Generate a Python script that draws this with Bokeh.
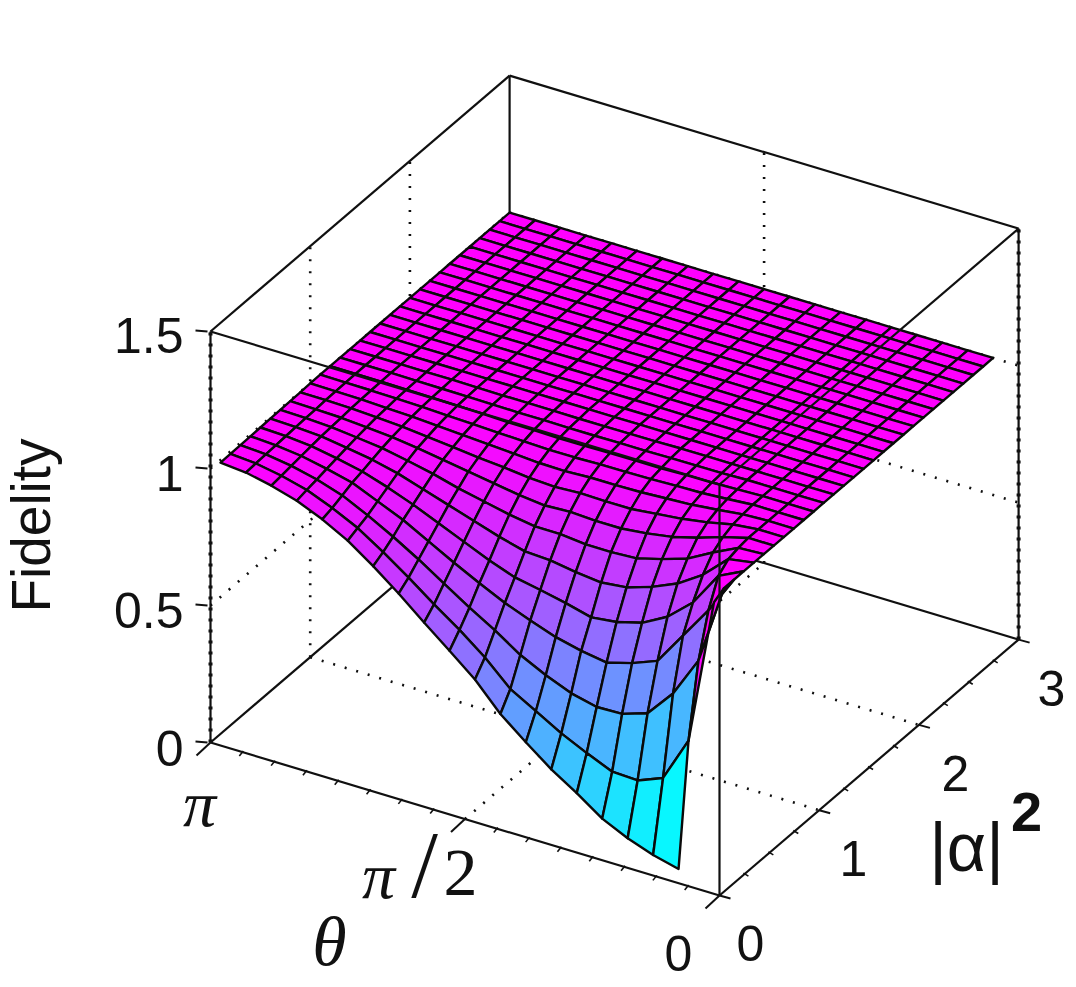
from bokeh.plotting import figure
from bokeh.models import Range1d
from bokeh.core.properties import value
from bokeh.embed import file_html
from bokeh.resources import INLINE

# values
theta_over_pi = [0.05, 0.10, 0.15, 0.20, 0.25, 0.30, 0.35, 0.40, 0.45, 0.50,
                 0.55, 0.60, 0.65, 0.70, 0.75, 0.80, 0.85, 0.90, 0.95, 1.00]
alpha_sq = [0.1, 0.2, 0.3, 0.4, 0.5, 0.6, 0.7, 0.8, 0.9, 1.0,
            1.1, 1.2, 1.3, 1.4, 1.5, 1.6, 1.7, 1.8, 1.9, 2.0,
            2.1, 2.2, 2.3, 2.4, 2.5, 2.6, 2.7, 2.8, 2.9, 3.0]
# one row per theta; each row gives the rising part, the rest of the row is the plateau
plateau = 1.0
fidelity_rows = [
    [None, 0.98],
    [0.01, 0.447, 0.708, 0.86, 0.955, 0.985, 0.995],
    [0.033, 0.283, 0.56, 0.74, 0.83, 0.90, 0.95, 0.975, 0.99, 0.996],
    [0.066, 0.246, 0.46, 0.62, 0.75, 0.84, 0.90, 0.945, 0.97, 0.985, 0.993, 0.997],
    [0.11, 0.25, 0.43, 0.584, 0.70, 0.80, 0.87, 0.92, 0.955, 0.975, 0.987, 0.994, 0.997],
    [0.175, 0.29, 0.427, 0.558, 0.675, 0.77, 0.845, 0.905, 0.945, 0.97, 0.985, 0.993, 0.997],
    [0.234, 0.334, 0.449, 0.573, 0.664, 0.76, 0.84, 0.895, 0.935, 0.965, 0.982, 0.99, 0.996],
    [0.305, 0.387, 0.487, 0.595, 0.688, 0.77, 0.84, 0.895, 0.935, 0.963, 0.98, 0.99, 0.995, 0.998],
    [0.38, 0.44, 0.533, 0.628, 0.708, 0.785, 0.85, 0.90, 0.937, 0.963, 0.98, 0.99, 0.995, 0.998],
    [0.478, 0.527, 0.595, 0.664, 0.726, 0.79, 0.85, 0.895, 0.932, 0.958, 0.977, 0.988, 0.994, 0.997],
    [0.555, 0.60, 0.65, 0.708, 0.76, 0.815, 0.865, 0.905, 0.937, 0.96, 0.977, 0.988, 0.994, 0.997],
    [0.63, 0.665, 0.71, 0.755, 0.80, 0.845, 0.885, 0.92, 0.947, 0.966, 0.98, 0.99, 0.995, 0.998],
    [0.708, 0.735, 0.77, 0.805, 0.84, 0.875, 0.905, 0.935, 0.955, 0.972, 0.983, 0.99, 0.995, 0.998],
    [0.78, 0.80, 0.825, 0.855, 0.88, 0.905, 0.93, 0.95, 0.965, 0.978, 0.987, 0.993, 0.996, 0.998],
    [0.845, 0.86, 0.875, 0.895, 0.915, 0.935, 0.95, 0.965, 0.975, 0.984, 0.99, 0.995, 0.997, 0.999],
    [0.895, 0.905, 0.92, 0.935, 0.945, 0.957, 0.968, 0.977, 0.984, 0.99, 0.994, 0.997, 0.998],
    [0.935, 0.943, 0.95, 0.958, 0.965, 0.972, 0.979, 0.985, 0.99, 0.993, 0.996, 0.998, 0.999],
    [0.962, 0.967, 0.972, 0.977, 0.982, 0.986, 0.989, 0.992, 0.995, 0.997, 0.998, 0.999],
    [0.982, 0.984, 0.986, 0.988, 0.99, 0.992, 0.994, 0.995, 0.997, 0.998, 0.999],
    [0.99, 0.991, 0.992, 0.993, 0.994, 0.995, 0.996, 0.997, 0.998, 0.999],
]
z_ticks = [0, 0.5, 1, 1.5]
z_tick_labels = ["0", "0.5", "1", "1.5"]
theta_ticks = [0, 0.5, 1]
alpha_ticks = [0, 1, 2, 3]
theta_minor = [0.0625, 0.125, 0.1875, 0.25, 0.3125, 0.375, 0.4375,
               0.5625, 0.625, 0.6875, 0.75, 0.8125, 0.875, 0.9375]
alpha_minor = [0.25, 0.5, 0.75, 1.25, 1.5, 1.75, 2.25, 2.5, 2.75]
Z_TOP = 1.5
A_TOP = 3

Z = [row + [plateau] * (len(alpha_sq) - len(row)) for row in fidelity_rows]


def px(t, a, z):
    return 210 + 509 * (1 - t) + 99.7 * a


def py(t, a, z):
    return 742 + 153 * (1 - t) - 85.3 * a - 274 * z


def seg(p1, p2):
    return [px(*p1), px(*p2)], [py(*p1), py(*p2)]


p = figure(width=1068, height=985, x_range=Range1d(0, 1068), y_range=Range1d(985, 0),
           output_backend="svg", toolbar_location=None, min_border=0,
           margin=(0, 0, 0, 0))
p.axis.visible = False
p.grid.visible = False
p.outline_line_color = None


def lines(segs, width=2.2, dash="solid"):
    xs, ys = zip(*segs)
    p.multi_line(list(xs), list(ys), line_color="#101010", line_width=width, line_dash=dash)


# dotted grid on the two back walls and the floor
dots = []
for a in alpha_ticks[1:-1]:
    dots.append(seg((1, a, 0), (1, a, Z_TOP)))
    dots.append(seg((1, a, 0), (0, a, 0)))
for t in theta_ticks[1:-1]:
    dots.append(seg((t, A_TOP, 0), (t, A_TOP, Z_TOP)))
    dots.append(seg((t, 0, 0), (t, A_TOP, 0)))
for z in z_ticks[1:-1]:
    dots.append(seg((1, 0, z), (1, A_TOP, z)))
    dots.append(seg((1, A_TOP, z), (0, A_TOP, z)))
lines(dots, width=2.6, dash="2 10")

# box edges behind the surface
lines([seg((1, A_TOP, 0), (1, A_TOP, Z_TOP)),
       seg((1, 0, 0), (1, A_TOP, 0)),
       seg((1, A_TOP, 0), (0, A_TOP, 0))])


def cool(v):
    c = max(0.0, min(1.0, v))
    return "#%02x%02xff" % (round(255 * c), round(255 * (1 - c)))


# surface, far cells first so that nearer ones cover them
xs, ys, cols = [], [], []
for i in range(len(theta_over_pi) - 2, -1, -1):
    for j in range(len(alpha_sq) - 2, -1, -1):
        corners = [(i, j), (i + 1, j), (i + 1, j + 1), (i, j + 1)]
        if any(Z[m][n] is None for m, n in corners):
            continue
        xs.append([px(theta_over_pi[m], alpha_sq[n], Z[m][n]) for m, n in corners])
        ys.append([py(theta_over_pi[m], alpha_sq[n], Z[m][n]) for m, n in corners])
        cols.append(cool(Z[i if i == 0 else i + 1][j]))
p.patches(xs, ys, fill_color=cols, line_color="#0a0a0a", line_width=2.4, line_join="round")

# box edges in front of the surface
lines([seg((1, 0, 0), (1, 0, Z_TOP)),
       seg((0, 0, 0), (0, 0, Z_TOP)),
       seg((0, A_TOP, 0), (0, A_TOP, Z_TOP)),
       seg((1, 0, 0), (0, 0, 0)),
       seg((0, 0, 0), (0, A_TOP, 0)),
       seg((1, 0, Z_TOP), (0, 0, Z_TOP)),
       seg((0, 0, Z_TOP), (0, A_TOP, Z_TOP)),
       seg((1, 0, Z_TOP), (1, A_TOP, Z_TOP)),
       seg((1, A_TOP, Z_TOP), (0, A_TOP, Z_TOP))])

# the small regular bumps along the two outer verticals
lines([seg((1, 0, 0), (1, 0, Z_TOP)), seg((0, A_TOP, 0), (0, A_TOP, Z_TOP))], width=4.0, dash="3 8")

# tick marks
ticks = []
for z in z_ticks:
    ticks.append(([px(1, 0, z) - 3, px(1, 0, z) - 15], [py(1, 0, z), py(1, 0, z) - 1]))
for t in theta_ticks:
    ticks.append(([px(t, 0, 0), px(t, 0, 0) - 14], [py(t, 0, 0), py(t, 0, 0) + 13]))
for a in alpha_ticks:
    ticks.append(([px(0, a, 0), px(0, a, 0) + 11], [py(0, a, 0), py(0, a, 0) + 3]))
lines(ticks, width=2.0)
minor = []
for t in theta_minor:
    minor.append(([px(t, 0, 0) + 1, px(t, 0, 0) - 3], [py(t, 0, 0) - 1, py(t, 0, 0) + 4]))
for a in alpha_minor:
    minor.append(([px(0, a, 0) - 1, px(0, a, 0) + 4], [py(0, a, 0) - 1, py(0, a, 0) + 2]))
lines(minor, width=1.6)


def label(x, y, s, size, font="Liberation Sans", align="center", style="normal", angle=0.0):
    # the page's SVG text sits lower than its nominal baseline; compensate
    if angle:
        x -= 0.47 * size
    else:
        y -= 0.38 * size
    p.text([x], [y], text=[s], text_font=value(font), text_font_size=value("%dpx" % size),
           text_align=align, text_baseline="alphabetic", text_font_style=style,
           text_color="#111111", angle=angle)


for s, yb in zip(z_tick_labels, [767, 629, 492, 354]):
    label(183, yb, s, 50, align="right")
label(678, 972, "0", 50)
for s, xc, yb in [("0", 750, 962), ("1", 853, 877), ("2", 955, 792), ("3", 1051, 707)]:
    label(xc, yb, s, 50)
serif = "Liberation Serif"
label(199, 828, "π", 66, font=serif, style="italic")
label(378, 900, "π", 66, font=serif, style="italic")
label(424, 900, "/", 96, font=serif)
label(460, 898, "2", 68, font=serif)
label(329, 968, "θ", 70, font=serif, style="italic")
label(56, 525, "Fidelity", 55, angle=1.5708)
label(966, 872, "|α|", 68)
label(1026, 833, "2", 56, style="bold")

open("out.html", "w").write(file_html(p, INLINE))
